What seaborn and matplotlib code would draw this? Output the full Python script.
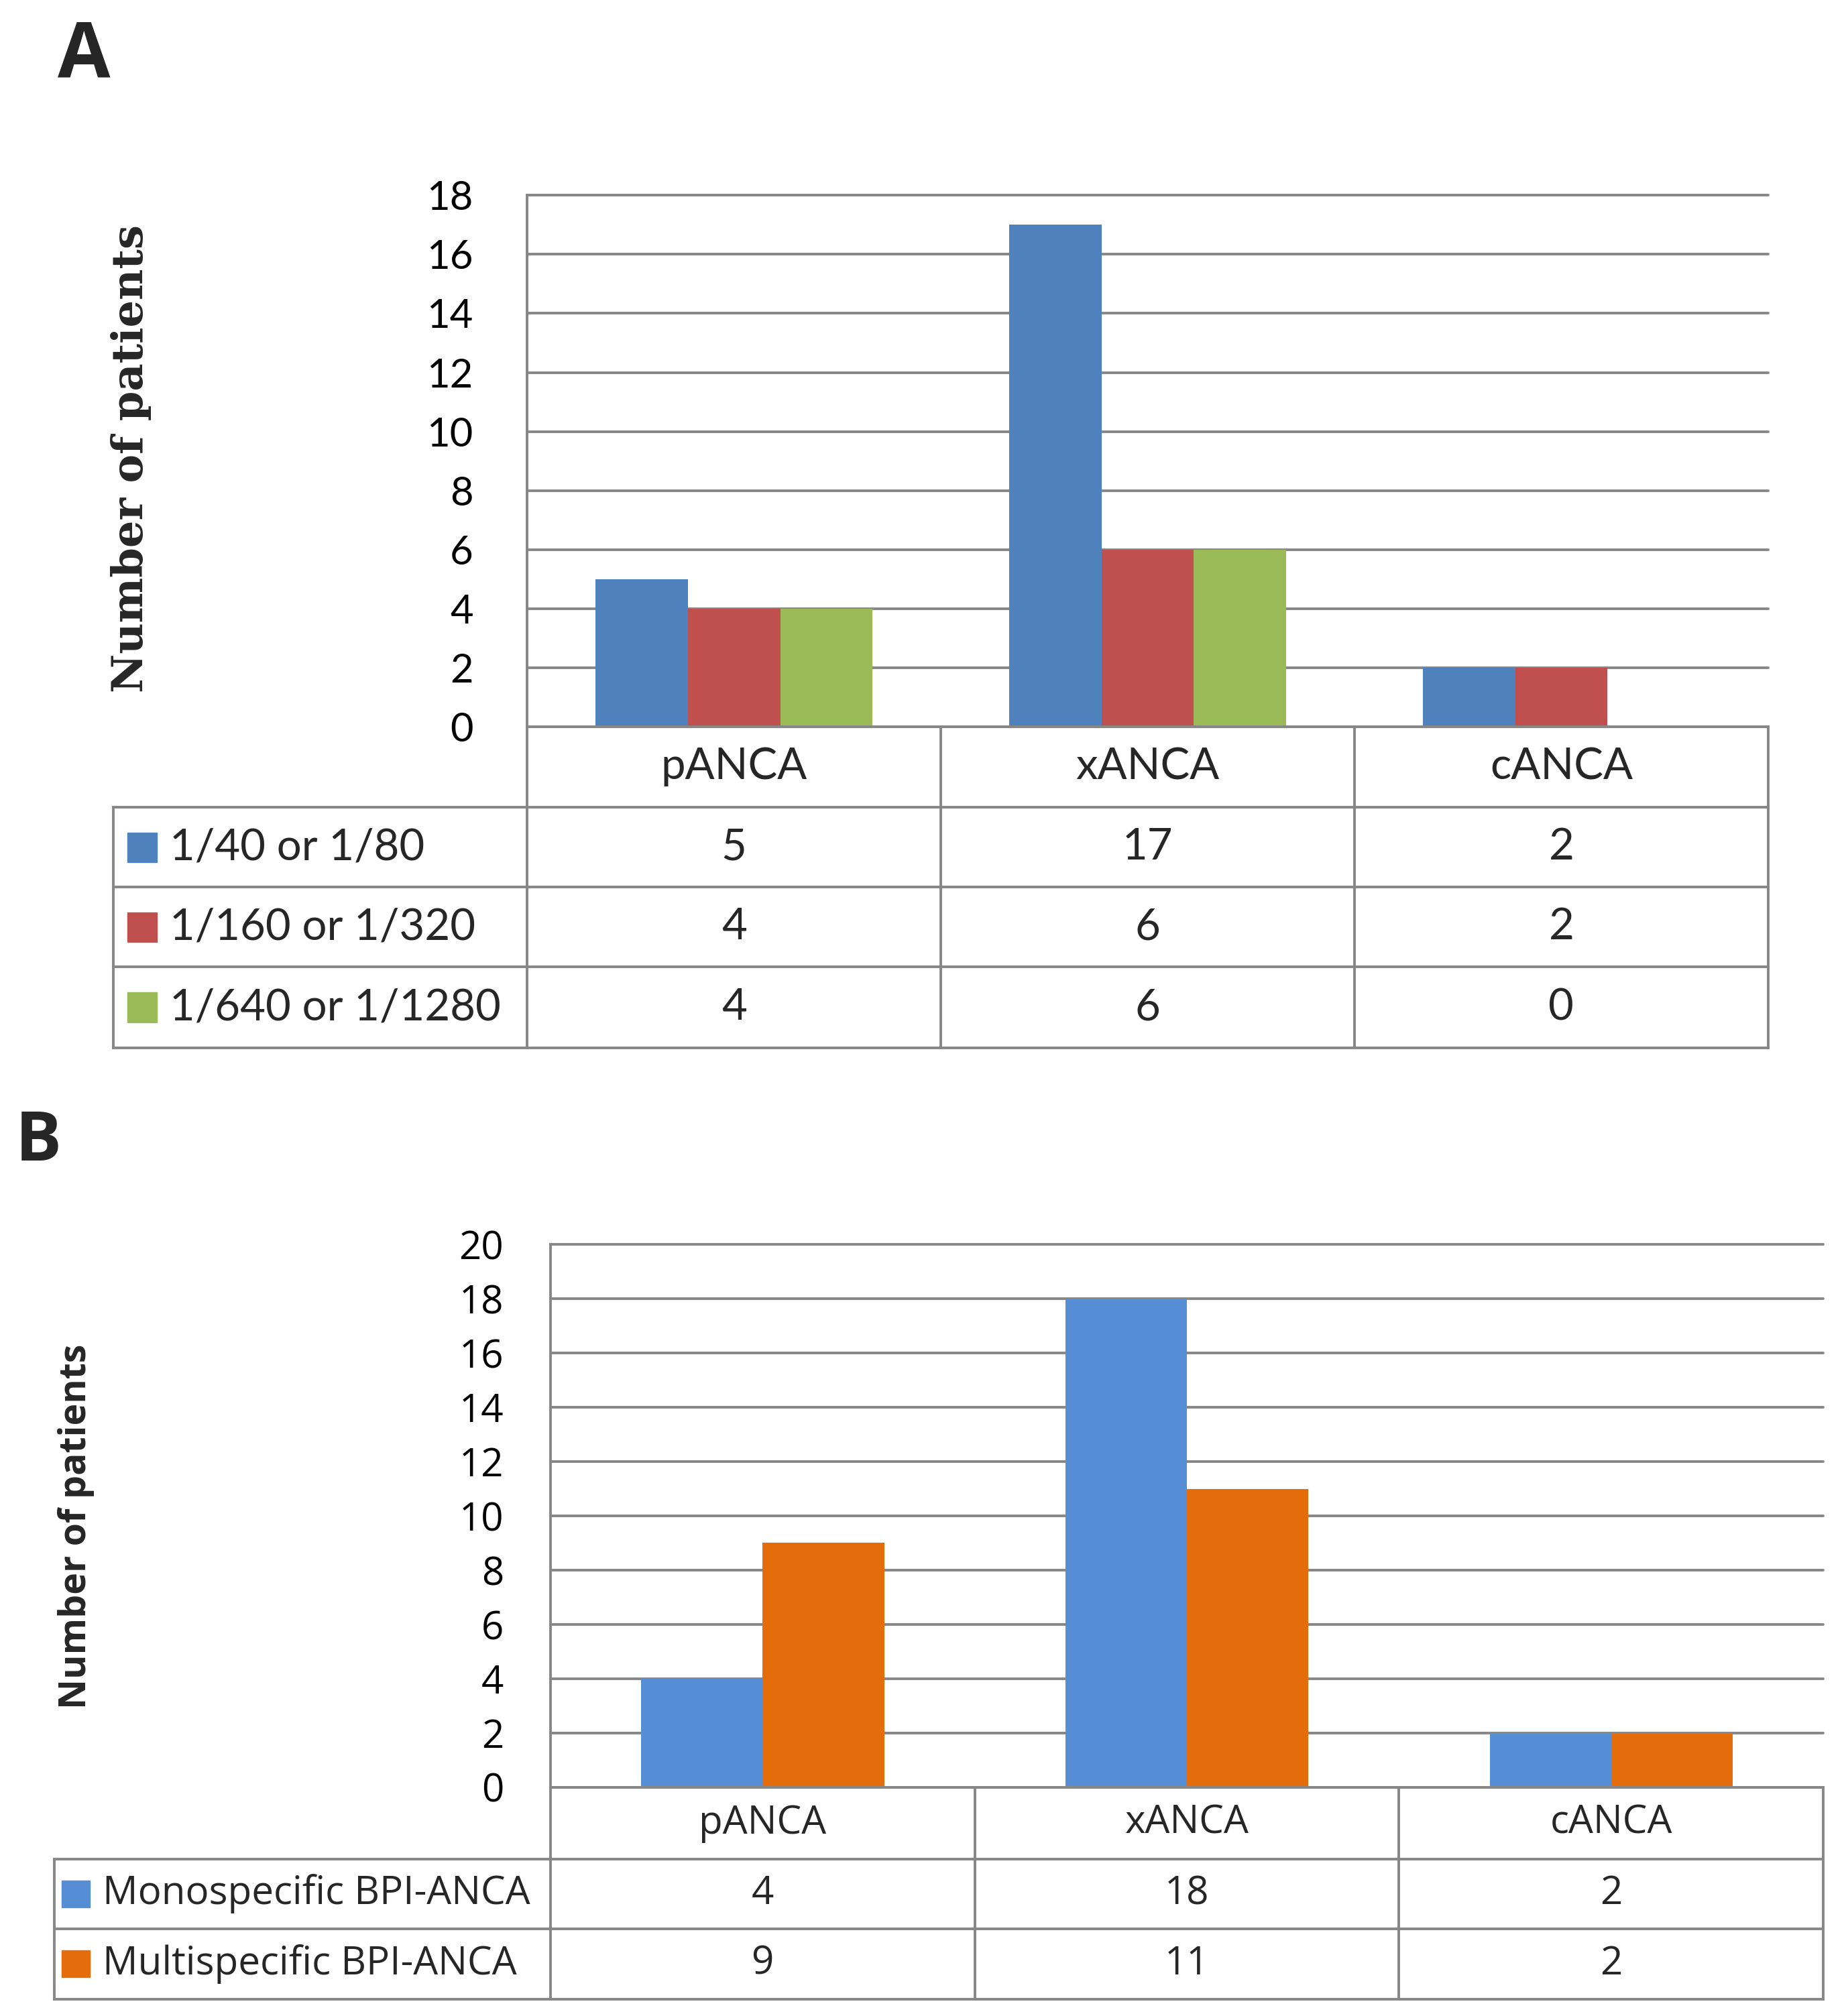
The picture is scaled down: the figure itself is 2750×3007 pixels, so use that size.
import numpy as np
import pandas as pd
import matplotlib
matplotlib.use("Agg")
import matplotlib.pyplot as plt
from matplotlib.lines import Line2D
from matplotlib.patches import Rectangle
import seaborn as sns

# ---- data ----
categories = ["pANCA", "xANCA", "cANCA"]

titer_groups = ["1/40 or 1/80", "1/160 or 1/320", "1/640 or 1/1280"]
titer_low = [5, 17, 2]
titer_mid = [4, 6, 2]
titer_high = [4, 6, 0]
titer_colors = ["#4F81BD", "#C0504D", "#9BBB59"]

spec_groups = ["Monospecific BPI-ANCA", "Multispecific BPI-ANCA"]
spec_mono = [4, 18, 2]
spec_multi = [9, 11, 2]
spec_colors = ["#558ED5", "#E46C0A"]

GRID = "#878787"
LW = 2.8
# layout is measured on a 1434 x 1568 grid of the reference
W, H = 1434.0, 1568.0


def fx(x):
    return x / W


def fy(y):
    return 1 - y / H


def to_long(groups, series):
    rows = []
    for g, vals in zip(groups, series):
        for c, v in zip(categories, vals):
            rows.append({"category": c, "series": g, "count": v})
    return pd.DataFrame(rows)


def bar_panel(fig, box, df, groups, colors, ymax, width, font, tick_size, pad):
    x0, y0, x1, y1 = box
    ax = fig.add_axes([fx(x0), fy(y1), fx(x1) - fx(x0), fy(y0) - fy(y1)])
    sns.barplot(data=df, x="category", y="count", hue="series", order=categories,
                hue_order=groups, palette=colors, width=width, saturation=1,
                linewidth=0, legend=False, ax=ax, zorder=3)
    ax.set_xlim(-0.5, 2.5)
    ax.set_ylim(0, ymax)
    ax.set_yticks(np.arange(0, ymax + 1, 2))
    ax.set_xticks([])
    ax.set_xlabel("")
    ax.set_ylabel("")
    ax.grid(axis="y", color=GRID, linewidth=LW)
    ax.set_axisbelow(True)
    for gl in ax.get_ygridlines():
        gl.set_clip_on(False)
    for s in ["top", "right", "bottom"]:
        ax.spines[s].set_visible(False)
    ax.spines["left"].set_color(GRID)
    ax.spines["left"].set_linewidth(LW)
    ax.tick_params(axis="y", length=0, pad=pad, labelsize=tick_size,
                   labelfontfamily=font, labelcolor="black")
    return ax


def fig_line(fig, xs, ys):
    fig.add_artist(Line2D([fx(x) for x in xs], [fy(y) for y in ys], color=GRID,
                          linewidth=LW, solid_capstyle="projecting",
                          transform=fig.transFigure))


def draw_table(fig, ax, groups, series, colors, row_y, left_x, font, size,
               swatch, label_x):
    trans = ax.transData + fig.transFigure.inverted()
    edges = [trans.transform((b, 0))[0] * W for b in [-0.5, 0.5, 1.5, 2.5]]
    centers = [trans.transform((i, 0))[0] * W for i in range(len(categories))]

    fig_line(fig, [edges[0], edges[-1]], [row_y[0], row_y[0]])
    for y in row_y[1:]:
        fig_line(fig, [left_x, edges[-1]], [y, y])
    for x in edges:
        fig_line(fig, [x, x], [row_y[0], row_y[-1]])
    fig_line(fig, [left_x, left_x], [row_y[1], row_y[-1]])

    mid = (row_y[0] + row_y[1]) / 2
    for c, cx in zip(categories, centers):
        fig.text(fx(cx), fy(mid), c, ha="center", va="center", fontsize=size,
                 family=font)

    sw, sh = swatch
    for i, (g, vals, col) in enumerate(zip(groups, series, colors)):
        mid = (row_y[i + 1] + row_y[i + 2]) / 2
        fig.add_artist(Rectangle((fx(label_x - 10 - sw), fy(mid + sh / 2)),
                                 sw / W, sh / H, color=col,
                                 transform=fig.transFigure))
        fig.text(fx(label_x), fy(mid), g, ha="left", va="center", fontsize=size,
                 family=font)
        for v, cx in zip(vals, centers):
            fig.text(fx(cx), fy(mid), str(v), ha="center", va="center",
                     fontsize=size, family=font)


sns.set_theme(style="white")
plt.rcParams["font.family"] = ["Lato", "DejaVu Sans"]

fig = plt.figure(figsize=(27.5, 30.07), dpi=100)

# ---- panel A ----
df_a = to_long(titer_groups, [titer_low, titer_mid, titer_high])
ax_a = bar_panel(fig, (410, 152, 1375, 565), df_a, titer_groups, titer_colors,
                 18, 0.67, "Lato", 43, 58)
ax_a.set_ylabel("Number of patients", fontsize=46, family="DejaVu Serif",
                fontweight="bold")
ax_a.yaxis.set_label_coords(-0.303, 0.504)
draw_table(fig, ax_a, titer_groups, [titer_low, titer_mid, titer_high],
           titer_colors, [565, 628, 690, 752, 815], 88, "Lato", 47,
           (23, 23), 132)
fig.text(fx(45), fy(15), "A", fontsize=82, fontweight="bold",
         family="Open Sans", ha="left", va="top")

# ---- panel B ----
df_b = to_long(spec_groups, [spec_mono, spec_multi])
ax_b = bar_panel(fig, (428, 968, 1418, 1390), df_b, spec_groups, spec_colors,
                 20, 0.573, "Open Sans", 42, 50)
ax_b.set_ylabel("Number of patients", fontsize=40, family="Open Sans",
                fontweight="bold")
ax_b.yaxis.set_label_coords(-0.358, 0.481)
draw_table(fig, ax_b, spec_groups, [spec_mono, spec_multi], spec_colors,
           [1390, 1446, 1500, 1555], 42, "Open Sans", 42, (22, 21), 80)
fig.text(fx(12), fy(862), "B", fontsize=74, fontweight="bold",
         family="Open Sans", ha="left", va="top")

fig.savefig("out.png", dpi=100, facecolor="white")
